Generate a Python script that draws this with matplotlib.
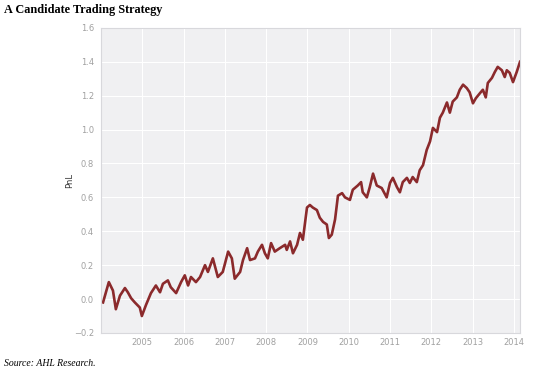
import matplotlib
matplotlib.use("Agg")
import matplotlib.pyplot as plt

# decimal years and cumulative PnL
years = [
    2004.05, 2004.19, 2004.29, 2004.36, 2004.46, 2004.58, 2004.65, 2004.73,
    2004.82, 2004.94, 2004.99, 2005.09, 2005.21, 2005.33, 2005.43, 2005.50,
    2005.62, 2005.69, 2005.82, 2005.94, 2006.03, 2006.11, 2006.18, 2006.30,
    2006.40, 2006.52, 2006.59, 2006.71, 2006.83, 2006.95, 2007.08, 2007.17,
    2007.24, 2007.37, 2007.44, 2007.54, 2007.61, 2007.73, 2007.80, 2007.90,
    2007.97, 2008.04, 2008.12, 2008.21, 2008.33, 2008.46, 2008.50, 2008.58,
    2008.65, 2008.75, 2008.82, 2008.89, 2008.99, 2009.06, 2009.13, 2009.23,
    2009.30, 2009.38, 2009.47, 2009.52, 2009.59, 2009.67, 2009.74, 2009.84,
    2009.91, 2010.03, 2010.10, 2010.22, 2010.30, 2010.34, 2010.44, 2010.51,
    2010.59, 2010.68, 2010.80, 2010.92, 2011.00, 2011.07, 2011.17, 2011.24,
    2011.31, 2011.41, 2011.48, 2011.55, 2011.65, 2011.72, 2011.80, 2011.89,
    2011.97, 2012.04, 2012.14, 2012.21, 2012.28, 2012.38, 2012.45, 2012.52,
    2012.62, 2012.69, 2012.77, 2012.86, 2012.93, 2013.01, 2013.08, 2013.18,
    2013.25, 2013.32, 2013.37, 2013.47, 2013.54, 2013.61, 2013.71, 2013.78,
    2013.83, 2013.90, 2013.98, 2014.07, 2014.15,
]
pnl = [
    -0.02, 0.10, 0.05, -0.06, 0.02, 0.065, 0.04, 0.005,
    -0.02, -0.05, -0.10, -0.035, 0.035, 0.08, 0.04, 0.09,
    0.11, 0.07, 0.035, 0.10, 0.14, 0.08, 0.13, 0.10,
    0.13, 0.20, 0.16, 0.24, 0.13, 0.16, 0.28, 0.24,
    0.12, 0.16, 0.23, 0.30, 0.23, 0.24, 0.28, 0.32,
    0.27, 0.24, 0.33, 0.28, 0.30, 0.32, 0.29, 0.34,
    0.27, 0.32, 0.39, 0.35, 0.54, 0.555, 0.54, 0.525,
    0.48, 0.455, 0.44, 0.36, 0.38, 0.47, 0.61, 0.625,
    0.60, 0.585, 0.645, 0.67, 0.69, 0.63, 0.60, 0.66,
    0.74, 0.67, 0.655, 0.60, 0.685, 0.715, 0.66, 0.63,
    0.69, 0.715, 0.685, 0.72, 0.69, 0.76, 0.79, 0.88,
    0.93, 1.01, 0.985, 1.07, 1.10, 1.16, 1.10, 1.165,
    1.19, 1.235, 1.265, 1.245, 1.22, 1.155, 1.185, 1.215,
    1.235, 1.19, 1.275, 1.305, 1.34, 1.37, 1.35, 1.31,
    1.35, 1.335, 1.28, 1.34, 1.40,
]
xticks = list(range(2005, 2015))
yticks = [-0.2, 0.0, 0.2, 0.4, 0.6, 0.8, 1.0, 1.2, 1.4, 1.6]

fig = plt.figure(figsize=(5.4, 3.72), dpi=100)
ax = fig.add_axes([0.187, 0.105, 0.776, 0.820])
ax.set_facecolor("#f0f0f2")
ax.plot(years, pnl, color="#8b2a2c", linewidth=1.9)

ax.set_xlim(2004.0, 2014.15)
ax.set_ylim(-0.2, 1.6)
ax.set_xticks(xticks)
ax.set_xticklabels([str(y) for y in xticks])
ax.set_yticks(yticks)
ax.set_yticklabels([f"{v:.1f}".replace("-", "\u2212") for v in yticks])
ax.grid(True, color="white", linewidth=0.8)
ax.set_axisbelow(True)
ax.tick_params(length=0, labelsize=6, labelcolor="#a0a0a0")
ax.tick_params(axis="y", pad=5)
ax.tick_params(axis="x", pad=4)
for s in ax.spines.values():
    s.set_color("#d8d8dc")
    s.set_linewidth(0.8)
ax.set_ylabel("PnL", fontsize=6, color="#333333", labelpad=0)

fig.text(0.008, 0.972, "A Candidate Trading Strategy", fontsize=8.8,
         fontweight="bold", family="Liberation Serif", va="center", ha="left")
fig.text(0.008, 0.022, "Source: AHL Research.", fontsize=7,
         style="italic", family="Liberation Serif", va="center", ha="left")

fig.savefig("out.png", dpi=100)
